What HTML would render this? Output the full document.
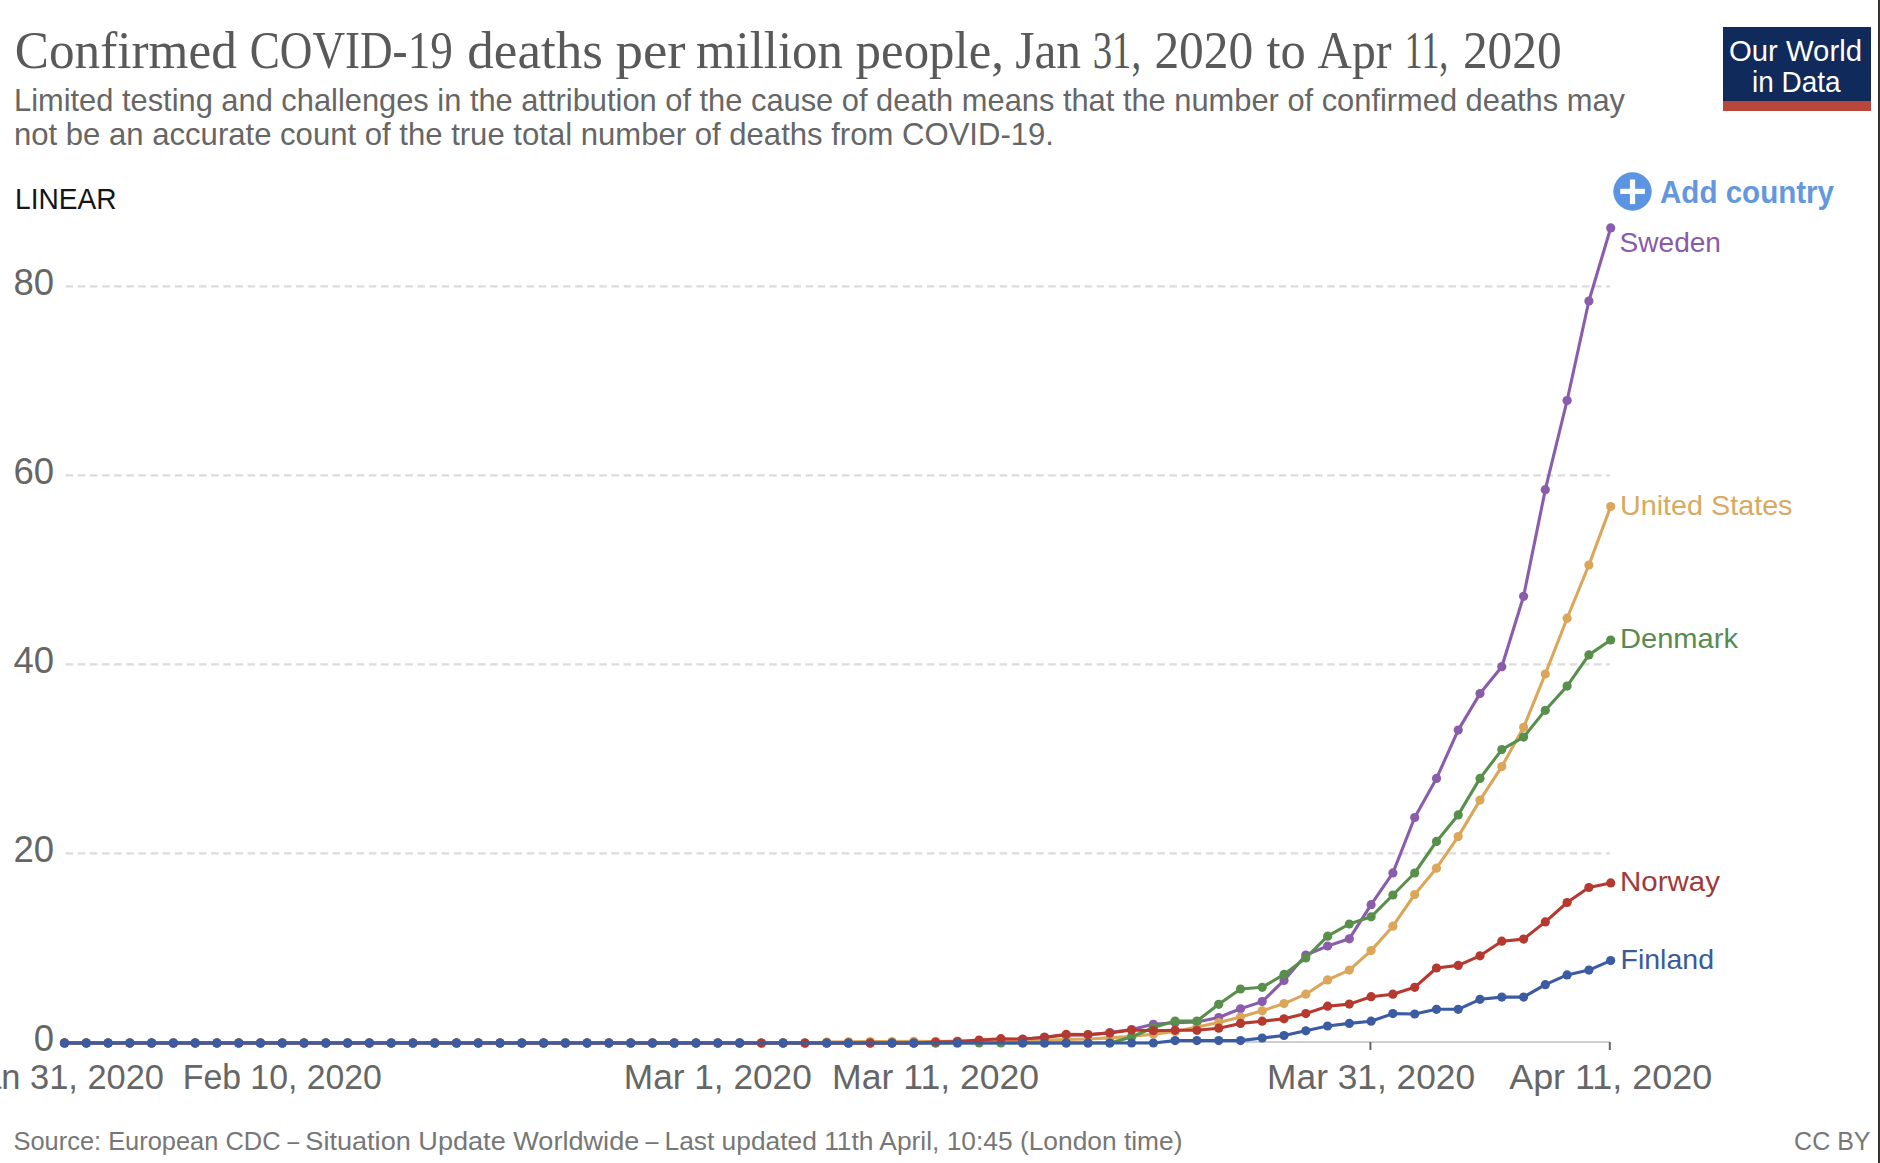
<!DOCTYPE html>
<html><head><meta charset="utf-8"><style>
html,body{margin:0;padding:0;background:#fff;width:1880px;height:1163px;overflow:hidden}
svg{display:block}
</style></head><body>
<svg width="1880" height="1163" viewBox="0 0 1880 1163">
<rect width="1880" height="1163" fill="#ffffff"/>
<g font-family="Liberation Serif" font-size="52" fill="#595959"><text x="14.8" y="68.4" textLength="222.0" lengthAdjust="spacingAndGlyphs">Confirmed</text><text x="249.7" y="68.4" textLength="203.1" lengthAdjust="spacingAndGlyphs">COVID-19</text><text x="467.3" y="68.4" textLength="135.6" lengthAdjust="spacingAndGlyphs">deaths</text><text x="615.5" y="68.4" textLength="70.1" lengthAdjust="spacingAndGlyphs">per</text><text x="696.0" y="68.4" textLength="147.0" lengthAdjust="spacingAndGlyphs">million</text><text x="855.6" y="68.4" textLength="148.4" lengthAdjust="spacingAndGlyphs">people,</text><text x="1015.2" y="68.4" textLength="65.8" lengthAdjust="spacingAndGlyphs">Jan</text><text x="1092.7" y="68.4" textLength="48.5" lengthAdjust="spacingAndGlyphs">31,</text><text x="1154.4" y="68.4" textLength="98.9" lengthAdjust="spacingAndGlyphs">2020</text><text x="1266.5" y="68.4" textLength="39.3" lengthAdjust="spacingAndGlyphs">to</text><text x="1317.6" y="68.4" textLength="74.0" lengthAdjust="spacingAndGlyphs">Apr</text><text x="1404.8" y="68.4" textLength="43.5" lengthAdjust="spacingAndGlyphs">11,</text><text x="1462.9" y="68.4" textLength="98.8" lengthAdjust="spacingAndGlyphs">2020</text></g>
<g font-family="Liberation Sans" font-size="30.5" fill="#666666">
<text x="14" y="111.3" textLength="1611" lengthAdjust="spacingAndGlyphs">Limited testing and challenges in the attribution of the cause of death means that the number of confirmed deaths may</text>
<text x="14" y="145" textLength="1040" lengthAdjust="spacingAndGlyphs">not be an accurate count of the true total number of deaths from COVID-19.</text>
</g>
<text x="15" y="208.6" font-family="Liberation Sans" font-size="30" fill="#151515" textLength="101.5" lengthAdjust="spacingAndGlyphs">LINEAR</text>
<!-- logo -->
<rect x="1723" y="27" width="148" height="84" fill="#102a5c"/>
<rect x="1723" y="101" width="148" height="10" fill="#b8473a"/>
<g font-family="Liberation Sans" font-size="30" fill="#fff">
<text x="1729" y="61" textLength="133" lengthAdjust="spacingAndGlyphs">Our World</text>
<text x="1752" y="92.3" textLength="88.5" lengthAdjust="spacingAndGlyphs">in Data</text>
</g>
<!-- add country -->
<circle cx="1632.5" cy="191.5" r="19.2" fill="#5b94e3"/>
<rect x="1620.3" y="188.8" width="24.6" height="5.2" fill="#fff"/>
<rect x="1629.9" y="179.5" width="5.2" height="24.6" fill="#fff"/>
<text x="1660" y="203.4" font-family="Liberation Sans" font-weight="700" font-size="31.5" fill="#6497dd" textLength="174" lengthAdjust="spacingAndGlyphs">Add country</text>
<!-- grid -->
<line x1="65.6" y1="286.3" x2="1610" y2="286.3" stroke="#dcdcdc" stroke-width="2.2" stroke-dasharray="7.6,4.53"/><line x1="65.6" y1="475.3" x2="1610" y2="475.3" stroke="#dcdcdc" stroke-width="2.2" stroke-dasharray="7.6,4.53"/><line x1="65.6" y1="664.3" x2="1610" y2="664.3" stroke="#dcdcdc" stroke-width="2.2" stroke-dasharray="7.6,4.53"/><line x1="65.6" y1="853.3" x2="1610" y2="853.3" stroke="#dcdcdc" stroke-width="2.2" stroke-dasharray="7.6,4.53"/>
<line x1="65" y1="1042" x2="1610" y2="1042" stroke="#cfcfcf" stroke-width="2"/>
<line x1="1370.4" y1="1042" x2="1370.4" y2="1050" stroke="#666" stroke-width="2"/>
<line x1="1609.8" y1="1042" x2="1609.8" y2="1050" stroke="#666" stroke-width="2"/>
<g font-family="Liberation Sans" font-size="36.5" fill="#666"><text x="54" y="295" text-anchor="end">80</text><text x="54" y="484" text-anchor="end">60</text><text x="54" y="673" text-anchor="end">40</text><text x="54" y="862" text-anchor="end">20</text><text x="54" y="1051" text-anchor="end">0</text></g>
<g font-family="Liberation Sans" font-size="35.5" fill="#666"><text x="64.5" y="1089.3" text-anchor="middle" textLength="199" lengthAdjust="spacingAndGlyphs">Jan 31, 2020</text><text x="282.3" y="1089.3" text-anchor="middle" textLength="199" lengthAdjust="spacingAndGlyphs">Feb 10, 2020</text><text x="717.8" y="1089.3" text-anchor="middle" textLength="188" lengthAdjust="spacingAndGlyphs">Mar 1, 2020</text><text x="935.6" y="1089.3" text-anchor="middle" textLength="207" lengthAdjust="spacingAndGlyphs">Mar 11, 2020</text><text x="1371.1" y="1089.3" text-anchor="middle" textLength="208" lengthAdjust="spacingAndGlyphs">Mar 31, 2020</text><text x="1610.7" y="1089.3" text-anchor="middle" textLength="203" lengthAdjust="spacingAndGlyphs">Apr 11, 2020</text></g>
<!-- series -->
<polyline points="64.5,1043.0 86.3,1043.0 108.1,1043.0 129.8,1043.0 151.6,1043.0 173.4,1043.0 195.2,1043.0 216.9,1043.0 238.7,1043.0 260.5,1043.0 282.3,1043.0 304.0,1043.0 325.8,1043.0 347.6,1043.0 369.4,1043.0 391.2,1043.0 412.9,1043.0 434.7,1043.0 456.5,1043.0 478.3,1043.0 500.0,1043.0 521.8,1043.0 543.6,1043.0 565.4,1043.0 587.1,1043.0 608.9,1043.0 630.7,1043.0 652.5,1043.0 674.3,1043.0 696.0,1043.0 717.8,1043.0 739.6,1043.0 761.4,1043.0 783.1,1043.0 804.9,1043.0 826.7,1043.0 848.5,1043.0 870.2,1043.0 892.0,1043.0 913.8,1043.0 935.6,1043.0 957.4,1042.5 979.1,1041.5 1000.9,1040.5 1022.7,1039.5 1044.5,1037.0 1066.2,1035.0 1088.0,1035.0 1109.8,1032.5 1131.6,1029.5 1153.4,1024.3 1175.1,1022.7 1196.9,1021.9 1218.7,1017.5 1240.5,1008.8 1262.2,1001.6 1284.0,980.4 1305.8,955.1 1327.6,946.0 1349.3,938.8 1371.1,904.7 1392.9,872.9 1414.7,817.5 1436.5,778.4 1458.2,730.1 1480.0,693.6 1501.8,666.7 1523.6,596.3 1545.3,489.7 1567.1,400.5 1588.9,301.0 1610.7,227.9" fill="none" stroke="#8a5cac" stroke-width="3.1" stroke-linejoin="round" stroke-linecap="round"/><g fill="#8a5cac"><circle cx="64.5" cy="1043.0" r="4.6"/><circle cx="86.3" cy="1043.0" r="4.6"/><circle cx="108.1" cy="1043.0" r="4.6"/><circle cx="129.8" cy="1043.0" r="4.6"/><circle cx="151.6" cy="1043.0" r="4.6"/><circle cx="173.4" cy="1043.0" r="4.6"/><circle cx="195.2" cy="1043.0" r="4.6"/><circle cx="216.9" cy="1043.0" r="4.6"/><circle cx="238.7" cy="1043.0" r="4.6"/><circle cx="260.5" cy="1043.0" r="4.6"/><circle cx="282.3" cy="1043.0" r="4.6"/><circle cx="304.0" cy="1043.0" r="4.6"/><circle cx="325.8" cy="1043.0" r="4.6"/><circle cx="347.6" cy="1043.0" r="4.6"/><circle cx="369.4" cy="1043.0" r="4.6"/><circle cx="391.2" cy="1043.0" r="4.6"/><circle cx="412.9" cy="1043.0" r="4.6"/><circle cx="434.7" cy="1043.0" r="4.6"/><circle cx="456.5" cy="1043.0" r="4.6"/><circle cx="478.3" cy="1043.0" r="4.6"/><circle cx="500.0" cy="1043.0" r="4.6"/><circle cx="521.8" cy="1043.0" r="4.6"/><circle cx="543.6" cy="1043.0" r="4.6"/><circle cx="565.4" cy="1043.0" r="4.6"/><circle cx="587.1" cy="1043.0" r="4.6"/><circle cx="608.9" cy="1043.0" r="4.6"/><circle cx="630.7" cy="1043.0" r="4.6"/><circle cx="652.5" cy="1043.0" r="4.6"/><circle cx="674.3" cy="1043.0" r="4.6"/><circle cx="696.0" cy="1043.0" r="4.6"/><circle cx="717.8" cy="1043.0" r="4.6"/><circle cx="739.6" cy="1043.0" r="4.6"/><circle cx="761.4" cy="1043.0" r="4.6"/><circle cx="783.1" cy="1043.0" r="4.6"/><circle cx="804.9" cy="1043.0" r="4.6"/><circle cx="826.7" cy="1043.0" r="4.6"/><circle cx="848.5" cy="1043.0" r="4.6"/><circle cx="870.2" cy="1043.0" r="4.6"/><circle cx="892.0" cy="1043.0" r="4.6"/><circle cx="913.8" cy="1043.0" r="4.6"/><circle cx="935.6" cy="1043.0" r="4.6"/><circle cx="957.4" cy="1042.5" r="4.6"/><circle cx="979.1" cy="1041.5" r="4.6"/><circle cx="1000.9" cy="1040.5" r="4.6"/><circle cx="1022.7" cy="1039.5" r="4.6"/><circle cx="1044.5" cy="1037.0" r="4.6"/><circle cx="1066.2" cy="1035.0" r="4.6"/><circle cx="1088.0" cy="1035.0" r="4.6"/><circle cx="1109.8" cy="1032.5" r="4.6"/><circle cx="1131.6" cy="1029.5" r="4.6"/><circle cx="1153.4" cy="1024.3" r="4.6"/><circle cx="1175.1" cy="1022.7" r="4.6"/><circle cx="1196.9" cy="1021.9" r="4.6"/><circle cx="1218.7" cy="1017.5" r="4.6"/><circle cx="1240.5" cy="1008.8" r="4.6"/><circle cx="1262.2" cy="1001.6" r="4.6"/><circle cx="1284.0" cy="980.4" r="4.6"/><circle cx="1305.8" cy="955.1" r="4.6"/><circle cx="1327.6" cy="946.0" r="4.6"/><circle cx="1349.3" cy="938.8" r="4.6"/><circle cx="1371.1" cy="904.7" r="4.6"/><circle cx="1392.9" cy="872.9" r="4.6"/><circle cx="1414.7" cy="817.5" r="4.6"/><circle cx="1436.5" cy="778.4" r="4.6"/><circle cx="1458.2" cy="730.1" r="4.6"/><circle cx="1480.0" cy="693.6" r="4.6"/><circle cx="1501.8" cy="666.7" r="4.6"/><circle cx="1523.6" cy="596.3" r="4.6"/><circle cx="1545.3" cy="489.7" r="4.6"/><circle cx="1567.1" cy="400.5" r="4.6"/><circle cx="1588.9" cy="301.0" r="4.6"/><circle cx="1610.7" cy="227.9" r="4.6"/></g>
<polyline points="64.5,1043.0 86.3,1043.0 108.1,1043.0 129.8,1043.0 151.6,1043.0 173.4,1043.0 195.2,1043.0 216.9,1043.0 238.7,1043.0 260.5,1043.0 282.3,1043.0 304.0,1043.0 325.8,1043.0 347.6,1043.0 369.4,1043.0 391.2,1043.0 412.9,1043.0 434.7,1043.0 456.5,1043.0 478.3,1043.0 500.0,1043.0 521.8,1043.0 543.6,1043.0 565.4,1043.0 587.1,1043.0 608.9,1043.0 630.7,1043.0 652.5,1043.0 674.3,1043.0 696.0,1043.0 717.8,1043.0 739.6,1043.0 761.4,1043.0 783.1,1043.0 804.9,1043.0 826.7,1042.0 848.5,1041.8 870.2,1041.5 892.0,1041.5 913.8,1041.3 935.6,1041.5 957.4,1041.0 979.1,1041.0 1000.9,1040.5 1022.7,1040.5 1044.5,1040.0 1066.2,1039.5 1088.0,1039.0 1109.8,1037.9 1131.6,1036.3 1153.4,1034.3 1175.1,1031.5 1196.9,1027.0 1218.7,1022.5 1240.5,1017.0 1262.2,1010.8 1284.0,1003.6 1305.8,994.2 1327.6,979.9 1349.3,970.1 1371.1,950.6 1392.9,926.2 1414.7,894.5 1436.5,868.2 1458.2,836.6 1480.0,800.1 1501.8,766.6 1523.6,727.3 1545.3,674.0 1567.1,618.2 1588.9,565.0 1610.7,506.5" fill="none" stroke="#dca65a" stroke-width="3.1" stroke-linejoin="round" stroke-linecap="round"/><g fill="#dca65a"><circle cx="64.5" cy="1043.0" r="4.6"/><circle cx="86.3" cy="1043.0" r="4.6"/><circle cx="108.1" cy="1043.0" r="4.6"/><circle cx="129.8" cy="1043.0" r="4.6"/><circle cx="151.6" cy="1043.0" r="4.6"/><circle cx="173.4" cy="1043.0" r="4.6"/><circle cx="195.2" cy="1043.0" r="4.6"/><circle cx="216.9" cy="1043.0" r="4.6"/><circle cx="238.7" cy="1043.0" r="4.6"/><circle cx="260.5" cy="1043.0" r="4.6"/><circle cx="282.3" cy="1043.0" r="4.6"/><circle cx="304.0" cy="1043.0" r="4.6"/><circle cx="325.8" cy="1043.0" r="4.6"/><circle cx="347.6" cy="1043.0" r="4.6"/><circle cx="369.4" cy="1043.0" r="4.6"/><circle cx="391.2" cy="1043.0" r="4.6"/><circle cx="412.9" cy="1043.0" r="4.6"/><circle cx="434.7" cy="1043.0" r="4.6"/><circle cx="456.5" cy="1043.0" r="4.6"/><circle cx="478.3" cy="1043.0" r="4.6"/><circle cx="500.0" cy="1043.0" r="4.6"/><circle cx="521.8" cy="1043.0" r="4.6"/><circle cx="543.6" cy="1043.0" r="4.6"/><circle cx="565.4" cy="1043.0" r="4.6"/><circle cx="587.1" cy="1043.0" r="4.6"/><circle cx="608.9" cy="1043.0" r="4.6"/><circle cx="630.7" cy="1043.0" r="4.6"/><circle cx="652.5" cy="1043.0" r="4.6"/><circle cx="674.3" cy="1043.0" r="4.6"/><circle cx="696.0" cy="1043.0" r="4.6"/><circle cx="717.8" cy="1043.0" r="4.6"/><circle cx="739.6" cy="1043.0" r="4.6"/><circle cx="761.4" cy="1043.0" r="4.6"/><circle cx="783.1" cy="1043.0" r="4.6"/><circle cx="804.9" cy="1043.0" r="4.6"/><circle cx="826.7" cy="1042.0" r="4.6"/><circle cx="848.5" cy="1041.8" r="4.6"/><circle cx="870.2" cy="1041.5" r="4.6"/><circle cx="892.0" cy="1041.5" r="4.6"/><circle cx="913.8" cy="1041.3" r="4.6"/><circle cx="935.6" cy="1041.5" r="4.6"/><circle cx="957.4" cy="1041.0" r="4.6"/><circle cx="979.1" cy="1041.0" r="4.6"/><circle cx="1000.9" cy="1040.5" r="4.6"/><circle cx="1022.7" cy="1040.5" r="4.6"/><circle cx="1044.5" cy="1040.0" r="4.6"/><circle cx="1066.2" cy="1039.5" r="4.6"/><circle cx="1088.0" cy="1039.0" r="4.6"/><circle cx="1109.8" cy="1037.9" r="4.6"/><circle cx="1131.6" cy="1036.3" r="4.6"/><circle cx="1153.4" cy="1034.3" r="4.6"/><circle cx="1175.1" cy="1031.5" r="4.6"/><circle cx="1196.9" cy="1027.0" r="4.6"/><circle cx="1218.7" cy="1022.5" r="4.6"/><circle cx="1240.5" cy="1017.0" r="4.6"/><circle cx="1262.2" cy="1010.8" r="4.6"/><circle cx="1284.0" cy="1003.6" r="4.6"/><circle cx="1305.8" cy="994.2" r="4.6"/><circle cx="1327.6" cy="979.9" r="4.6"/><circle cx="1349.3" cy="970.1" r="4.6"/><circle cx="1371.1" cy="950.6" r="4.6"/><circle cx="1392.9" cy="926.2" r="4.6"/><circle cx="1414.7" cy="894.5" r="4.6"/><circle cx="1436.5" cy="868.2" r="4.6"/><circle cx="1458.2" cy="836.6" r="4.6"/><circle cx="1480.0" cy="800.1" r="4.6"/><circle cx="1501.8" cy="766.6" r="4.6"/><circle cx="1523.6" cy="727.3" r="4.6"/><circle cx="1545.3" cy="674.0" r="4.6"/><circle cx="1567.1" cy="618.2" r="4.6"/><circle cx="1588.9" cy="565.0" r="4.6"/><circle cx="1610.7" cy="506.5" r="4.6"/></g>
<polyline points="64.5,1043.0 86.3,1043.0 108.1,1043.0 129.8,1043.0 151.6,1043.0 173.4,1043.0 195.2,1043.0 216.9,1043.0 238.7,1043.0 260.5,1043.0 282.3,1043.0 304.0,1043.0 325.8,1043.0 347.6,1043.0 369.4,1043.0 391.2,1043.0 412.9,1043.0 434.7,1043.0 456.5,1043.0 478.3,1043.0 500.0,1043.0 521.8,1043.0 543.6,1043.0 565.4,1043.0 587.1,1043.0 608.9,1043.0 630.7,1043.0 652.5,1043.0 674.3,1043.0 696.0,1043.0 717.8,1043.0 739.6,1043.0 761.4,1043.0 783.1,1043.0 804.9,1043.0 826.7,1043.0 848.5,1043.0 870.2,1043.0 892.0,1043.0 913.8,1043.0 935.6,1043.0 957.4,1043.0 979.1,1043.0 1000.9,1043.0 1022.7,1043.0 1044.5,1043.0 1066.2,1043.0 1088.0,1043.0 1109.8,1043.0 1131.6,1037.0 1153.4,1027.5 1175.1,1021.1 1196.9,1021.1 1218.7,1004.3 1240.5,989.0 1262.2,987.3 1284.0,974.4 1305.8,958.0 1327.6,936.2 1349.3,924.0 1371.1,916.8 1392.9,895.0 1414.7,873.0 1436.5,841.4 1458.2,814.9 1480.0,778.4 1501.8,749.6 1523.6,737.1 1545.3,710.3 1567.1,686.1 1588.9,654.9 1610.7,640.0" fill="none" stroke="#578f4b" stroke-width="3.1" stroke-linejoin="round" stroke-linecap="round"/><g fill="#578f4b"><circle cx="64.5" cy="1043.0" r="4.6"/><circle cx="86.3" cy="1043.0" r="4.6"/><circle cx="108.1" cy="1043.0" r="4.6"/><circle cx="129.8" cy="1043.0" r="4.6"/><circle cx="151.6" cy="1043.0" r="4.6"/><circle cx="173.4" cy="1043.0" r="4.6"/><circle cx="195.2" cy="1043.0" r="4.6"/><circle cx="216.9" cy="1043.0" r="4.6"/><circle cx="238.7" cy="1043.0" r="4.6"/><circle cx="260.5" cy="1043.0" r="4.6"/><circle cx="282.3" cy="1043.0" r="4.6"/><circle cx="304.0" cy="1043.0" r="4.6"/><circle cx="325.8" cy="1043.0" r="4.6"/><circle cx="347.6" cy="1043.0" r="4.6"/><circle cx="369.4" cy="1043.0" r="4.6"/><circle cx="391.2" cy="1043.0" r="4.6"/><circle cx="412.9" cy="1043.0" r="4.6"/><circle cx="434.7" cy="1043.0" r="4.6"/><circle cx="456.5" cy="1043.0" r="4.6"/><circle cx="478.3" cy="1043.0" r="4.6"/><circle cx="500.0" cy="1043.0" r="4.6"/><circle cx="521.8" cy="1043.0" r="4.6"/><circle cx="543.6" cy="1043.0" r="4.6"/><circle cx="565.4" cy="1043.0" r="4.6"/><circle cx="587.1" cy="1043.0" r="4.6"/><circle cx="608.9" cy="1043.0" r="4.6"/><circle cx="630.7" cy="1043.0" r="4.6"/><circle cx="652.5" cy="1043.0" r="4.6"/><circle cx="674.3" cy="1043.0" r="4.6"/><circle cx="696.0" cy="1043.0" r="4.6"/><circle cx="717.8" cy="1043.0" r="4.6"/><circle cx="739.6" cy="1043.0" r="4.6"/><circle cx="761.4" cy="1043.0" r="4.6"/><circle cx="783.1" cy="1043.0" r="4.6"/><circle cx="804.9" cy="1043.0" r="4.6"/><circle cx="826.7" cy="1043.0" r="4.6"/><circle cx="848.5" cy="1043.0" r="4.6"/><circle cx="870.2" cy="1043.0" r="4.6"/><circle cx="892.0" cy="1043.0" r="4.6"/><circle cx="913.8" cy="1043.0" r="4.6"/><circle cx="935.6" cy="1043.0" r="4.6"/><circle cx="957.4" cy="1043.0" r="4.6"/><circle cx="979.1" cy="1043.0" r="4.6"/><circle cx="1000.9" cy="1043.0" r="4.6"/><circle cx="1022.7" cy="1043.0" r="4.6"/><circle cx="1044.5" cy="1043.0" r="4.6"/><circle cx="1066.2" cy="1043.0" r="4.6"/><circle cx="1088.0" cy="1043.0" r="4.6"/><circle cx="1109.8" cy="1043.0" r="4.6"/><circle cx="1131.6" cy="1037.0" r="4.6"/><circle cx="1153.4" cy="1027.5" r="4.6"/><circle cx="1175.1" cy="1021.1" r="4.6"/><circle cx="1196.9" cy="1021.1" r="4.6"/><circle cx="1218.7" cy="1004.3" r="4.6"/><circle cx="1240.5" cy="989.0" r="4.6"/><circle cx="1262.2" cy="987.3" r="4.6"/><circle cx="1284.0" cy="974.4" r="4.6"/><circle cx="1305.8" cy="958.0" r="4.6"/><circle cx="1327.6" cy="936.2" r="4.6"/><circle cx="1349.3" cy="924.0" r="4.6"/><circle cx="1371.1" cy="916.8" r="4.6"/><circle cx="1392.9" cy="895.0" r="4.6"/><circle cx="1414.7" cy="873.0" r="4.6"/><circle cx="1436.5" cy="841.4" r="4.6"/><circle cx="1458.2" cy="814.9" r="4.6"/><circle cx="1480.0" cy="778.4" r="4.6"/><circle cx="1501.8" cy="749.6" r="4.6"/><circle cx="1523.6" cy="737.1" r="4.6"/><circle cx="1545.3" cy="710.3" r="4.6"/><circle cx="1567.1" cy="686.1" r="4.6"/><circle cx="1588.9" cy="654.9" r="4.6"/><circle cx="1610.7" cy="640.0" r="4.6"/></g>
<polyline points="64.5,1043.0 86.3,1043.0 108.1,1043.0 129.8,1043.0 151.6,1043.0 173.4,1043.0 195.2,1043.0 216.9,1043.0 238.7,1043.0 260.5,1043.0 282.3,1043.0 304.0,1043.0 325.8,1043.0 347.6,1043.0 369.4,1043.0 391.2,1043.0 412.9,1043.0 434.7,1043.0 456.5,1043.0 478.3,1043.0 500.0,1043.0 521.8,1043.0 543.6,1043.0 565.4,1043.0 587.1,1043.0 608.9,1043.0 630.7,1043.0 652.5,1043.0 674.3,1043.0 696.0,1043.0 717.8,1043.0 739.6,1043.0 761.4,1043.0 783.1,1043.0 804.9,1043.0 826.7,1043.0 848.5,1043.0 870.2,1043.0 892.0,1043.0 913.8,1043.0 935.6,1042.0 957.4,1041.5 979.1,1040.0 1000.9,1038.7 1022.7,1039.0 1044.5,1037.5 1066.2,1034.4 1088.0,1034.6 1109.8,1033.0 1131.6,1030.0 1153.4,1030.7 1175.1,1030.3 1196.9,1030.3 1218.7,1028.2 1240.5,1023.4 1262.2,1021.2 1284.0,1018.8 1305.8,1013.6 1327.6,1006.2 1349.3,1004.1 1371.1,996.7 1392.9,994.2 1414.7,987.3 1436.5,968.0 1458.2,965.4 1480.0,955.8 1501.8,941.2 1523.6,939.1 1545.3,921.9 1567.1,902.5 1588.9,887.5 1610.7,882.9" fill="none" stroke="#b5392e" stroke-width="3.1" stroke-linejoin="round" stroke-linecap="round"/><g fill="#b5392e"><circle cx="64.5" cy="1043.0" r="4.6"/><circle cx="86.3" cy="1043.0" r="4.6"/><circle cx="108.1" cy="1043.0" r="4.6"/><circle cx="129.8" cy="1043.0" r="4.6"/><circle cx="151.6" cy="1043.0" r="4.6"/><circle cx="173.4" cy="1043.0" r="4.6"/><circle cx="195.2" cy="1043.0" r="4.6"/><circle cx="216.9" cy="1043.0" r="4.6"/><circle cx="238.7" cy="1043.0" r="4.6"/><circle cx="260.5" cy="1043.0" r="4.6"/><circle cx="282.3" cy="1043.0" r="4.6"/><circle cx="304.0" cy="1043.0" r="4.6"/><circle cx="325.8" cy="1043.0" r="4.6"/><circle cx="347.6" cy="1043.0" r="4.6"/><circle cx="369.4" cy="1043.0" r="4.6"/><circle cx="391.2" cy="1043.0" r="4.6"/><circle cx="412.9" cy="1043.0" r="4.6"/><circle cx="434.7" cy="1043.0" r="4.6"/><circle cx="456.5" cy="1043.0" r="4.6"/><circle cx="478.3" cy="1043.0" r="4.6"/><circle cx="500.0" cy="1043.0" r="4.6"/><circle cx="521.8" cy="1043.0" r="4.6"/><circle cx="543.6" cy="1043.0" r="4.6"/><circle cx="565.4" cy="1043.0" r="4.6"/><circle cx="587.1" cy="1043.0" r="4.6"/><circle cx="608.9" cy="1043.0" r="4.6"/><circle cx="630.7" cy="1043.0" r="4.6"/><circle cx="652.5" cy="1043.0" r="4.6"/><circle cx="674.3" cy="1043.0" r="4.6"/><circle cx="696.0" cy="1043.0" r="4.6"/><circle cx="717.8" cy="1043.0" r="4.6"/><circle cx="739.6" cy="1043.0" r="4.6"/><circle cx="761.4" cy="1043.0" r="4.6"/><circle cx="783.1" cy="1043.0" r="4.6"/><circle cx="804.9" cy="1043.0" r="4.6"/><circle cx="826.7" cy="1043.0" r="4.6"/><circle cx="848.5" cy="1043.0" r="4.6"/><circle cx="870.2" cy="1043.0" r="4.6"/><circle cx="892.0" cy="1043.0" r="4.6"/><circle cx="913.8" cy="1043.0" r="4.6"/><circle cx="935.6" cy="1042.0" r="4.6"/><circle cx="957.4" cy="1041.5" r="4.6"/><circle cx="979.1" cy="1040.0" r="4.6"/><circle cx="1000.9" cy="1038.7" r="4.6"/><circle cx="1022.7" cy="1039.0" r="4.6"/><circle cx="1044.5" cy="1037.5" r="4.6"/><circle cx="1066.2" cy="1034.4" r="4.6"/><circle cx="1088.0" cy="1034.6" r="4.6"/><circle cx="1109.8" cy="1033.0" r="4.6"/><circle cx="1131.6" cy="1030.0" r="4.6"/><circle cx="1153.4" cy="1030.7" r="4.6"/><circle cx="1175.1" cy="1030.3" r="4.6"/><circle cx="1196.9" cy="1030.3" r="4.6"/><circle cx="1218.7" cy="1028.2" r="4.6"/><circle cx="1240.5" cy="1023.4" r="4.6"/><circle cx="1262.2" cy="1021.2" r="4.6"/><circle cx="1284.0" cy="1018.8" r="4.6"/><circle cx="1305.8" cy="1013.6" r="4.6"/><circle cx="1327.6" cy="1006.2" r="4.6"/><circle cx="1349.3" cy="1004.1" r="4.6"/><circle cx="1371.1" cy="996.7" r="4.6"/><circle cx="1392.9" cy="994.2" r="4.6"/><circle cx="1414.7" cy="987.3" r="4.6"/><circle cx="1436.5" cy="968.0" r="4.6"/><circle cx="1458.2" cy="965.4" r="4.6"/><circle cx="1480.0" cy="955.8" r="4.6"/><circle cx="1501.8" cy="941.2" r="4.6"/><circle cx="1523.6" cy="939.1" r="4.6"/><circle cx="1545.3" cy="921.9" r="4.6"/><circle cx="1567.1" cy="902.5" r="4.6"/><circle cx="1588.9" cy="887.5" r="4.6"/><circle cx="1610.7" cy="882.9" r="4.6"/></g>
<polyline points="64.5,1043.0 86.3,1043.0 108.1,1043.0 129.8,1043.0 151.6,1043.0 173.4,1043.0 195.2,1043.0 216.9,1043.0 238.7,1043.0 260.5,1043.0 282.3,1043.0 304.0,1043.0 325.8,1043.0 347.6,1043.0 369.4,1043.0 391.2,1043.0 412.9,1043.0 434.7,1043.0 456.5,1043.0 478.3,1043.0 500.0,1043.0 521.8,1043.0 543.6,1043.0 565.4,1043.0 587.1,1043.0 608.9,1043.0 630.7,1043.0 652.5,1043.0 674.3,1043.0 696.0,1043.0 717.8,1043.0 739.6,1043.0 761.4,1043.0 783.1,1043.0 804.9,1043.0 826.7,1043.0 848.5,1043.0 870.2,1043.0 892.0,1043.0 913.8,1043.0 935.6,1043.0 957.4,1043.0 979.1,1043.0 1000.9,1043.0 1022.7,1043.0 1044.5,1043.0 1066.2,1043.0 1088.0,1043.0 1109.8,1043.0 1131.6,1043.0 1153.4,1043.0 1175.1,1040.6 1196.9,1040.6 1218.7,1040.6 1240.5,1040.6 1262.2,1038.0 1284.0,1035.5 1305.8,1030.8 1327.6,1026.0 1349.3,1023.4 1371.1,1021.2 1392.9,1013.6 1414.7,1014.0 1436.5,1009.3 1458.2,1009.3 1480.0,999.3 1501.8,997.1 1523.6,997.1 1545.3,984.7 1567.1,974.9 1588.9,970.1 1610.7,960.6" fill="none" stroke="#3b5ba3" stroke-width="3.1" stroke-linejoin="round" stroke-linecap="round"/><g fill="#3b5ba3"><circle cx="64.5" cy="1043.0" r="4.6"/><circle cx="86.3" cy="1043.0" r="4.6"/><circle cx="108.1" cy="1043.0" r="4.6"/><circle cx="129.8" cy="1043.0" r="4.6"/><circle cx="151.6" cy="1043.0" r="4.6"/><circle cx="173.4" cy="1043.0" r="4.6"/><circle cx="195.2" cy="1043.0" r="4.6"/><circle cx="216.9" cy="1043.0" r="4.6"/><circle cx="238.7" cy="1043.0" r="4.6"/><circle cx="260.5" cy="1043.0" r="4.6"/><circle cx="282.3" cy="1043.0" r="4.6"/><circle cx="304.0" cy="1043.0" r="4.6"/><circle cx="325.8" cy="1043.0" r="4.6"/><circle cx="347.6" cy="1043.0" r="4.6"/><circle cx="369.4" cy="1043.0" r="4.6"/><circle cx="391.2" cy="1043.0" r="4.6"/><circle cx="412.9" cy="1043.0" r="4.6"/><circle cx="434.7" cy="1043.0" r="4.6"/><circle cx="456.5" cy="1043.0" r="4.6"/><circle cx="478.3" cy="1043.0" r="4.6"/><circle cx="500.0" cy="1043.0" r="4.6"/><circle cx="521.8" cy="1043.0" r="4.6"/><circle cx="543.6" cy="1043.0" r="4.6"/><circle cx="565.4" cy="1043.0" r="4.6"/><circle cx="587.1" cy="1043.0" r="4.6"/><circle cx="608.9" cy="1043.0" r="4.6"/><circle cx="630.7" cy="1043.0" r="4.6"/><circle cx="652.5" cy="1043.0" r="4.6"/><circle cx="674.3" cy="1043.0" r="4.6"/><circle cx="696.0" cy="1043.0" r="4.6"/><circle cx="717.8" cy="1043.0" r="4.6"/><circle cx="739.6" cy="1043.0" r="4.6"/><circle cx="783.1" cy="1043.0" r="4.6"/><circle cx="826.7" cy="1043.0" r="4.6"/><circle cx="848.5" cy="1043.0" r="4.6"/><circle cx="892.0" cy="1043.0" r="4.6"/><circle cx="913.8" cy="1043.0" r="4.6"/><circle cx="957.4" cy="1043.0" r="4.6"/><circle cx="1022.7" cy="1043.0" r="4.6"/><circle cx="1044.5" cy="1043.0" r="4.6"/><circle cx="1066.2" cy="1043.0" r="4.6"/><circle cx="1088.0" cy="1043.0" r="4.6"/><circle cx="1109.8" cy="1043.0" r="4.6"/><circle cx="1131.6" cy="1043.0" r="4.6"/><circle cx="1153.4" cy="1043.0" r="4.6"/><circle cx="1175.1" cy="1040.6" r="4.6"/><circle cx="1196.9" cy="1040.6" r="4.6"/><circle cx="1218.7" cy="1040.6" r="4.6"/><circle cx="1240.5" cy="1040.6" r="4.6"/><circle cx="1262.2" cy="1038.0" r="4.6"/><circle cx="1284.0" cy="1035.5" r="4.6"/><circle cx="1305.8" cy="1030.8" r="4.6"/><circle cx="1327.6" cy="1026.0" r="4.6"/><circle cx="1349.3" cy="1023.4" r="4.6"/><circle cx="1371.1" cy="1021.2" r="4.6"/><circle cx="1392.9" cy="1013.6" r="4.6"/><circle cx="1414.7" cy="1014.0" r="4.6"/><circle cx="1436.5" cy="1009.3" r="4.6"/><circle cx="1458.2" cy="1009.3" r="4.6"/><circle cx="1480.0" cy="999.3" r="4.6"/><circle cx="1501.8" cy="997.1" r="4.6"/><circle cx="1523.6" cy="997.1" r="4.6"/><circle cx="1545.3" cy="984.7" r="4.6"/><circle cx="1567.1" cy="974.9" r="4.6"/><circle cx="1588.9" cy="970.1" r="4.6"/><circle cx="1610.7" cy="960.6" r="4.6"/></g>
<!-- labels -->
<g font-family="Liberation Sans" font-size="28.5">
<text x="1619.5" y="251.9" fill="#8a5aa8" textLength="101.5" lengthAdjust="spacingAndGlyphs">Sweden</text>
<text x="1620" y="515.3" fill="#d8a960" textLength="172.5" lengthAdjust="spacingAndGlyphs">United States</text>
<text x="1620" y="648.4" fill="#5a8a52" textLength="118" lengthAdjust="spacingAndGlyphs">Denmark</text>
<text x="1620" y="891" fill="#a03a38" textLength="100" lengthAdjust="spacingAndGlyphs">Norway</text>
<text x="1620.5" y="968.8" fill="#3a5a9a" textLength="93.5" lengthAdjust="spacingAndGlyphs">Finland</text>
</g>
<g font-family="Liberation Sans" font-size="25" fill="#777">
<text x="13.5" y="1149.5" textLength="267" lengthAdjust="spacingAndGlyphs">Source: European CDC</text>
<text x="287.5" y="1149.5" textLength="11.5" lengthAdjust="spacingAndGlyphs">–</text>
<text x="305.3" y="1149.5" textLength="334" lengthAdjust="spacingAndGlyphs">Situation Update Worldwide</text>
<text x="645.5" y="1149.5" textLength="13" lengthAdjust="spacingAndGlyphs">–</text>
<text x="664.5" y="1149.5" textLength="518" lengthAdjust="spacingAndGlyphs">Last updated 11th April, 10:45 (London time)</text>
<text x="1870.5" y="1149.8" text-anchor="end">CC BY</text>
</g>
<rect x="1878" y="0" width="2" height="1163" fill="#2f2b2b"/><rect x="1879" y="0" width="1" height="1163" fill="#3c3636"/>
</svg>
</body></html>
